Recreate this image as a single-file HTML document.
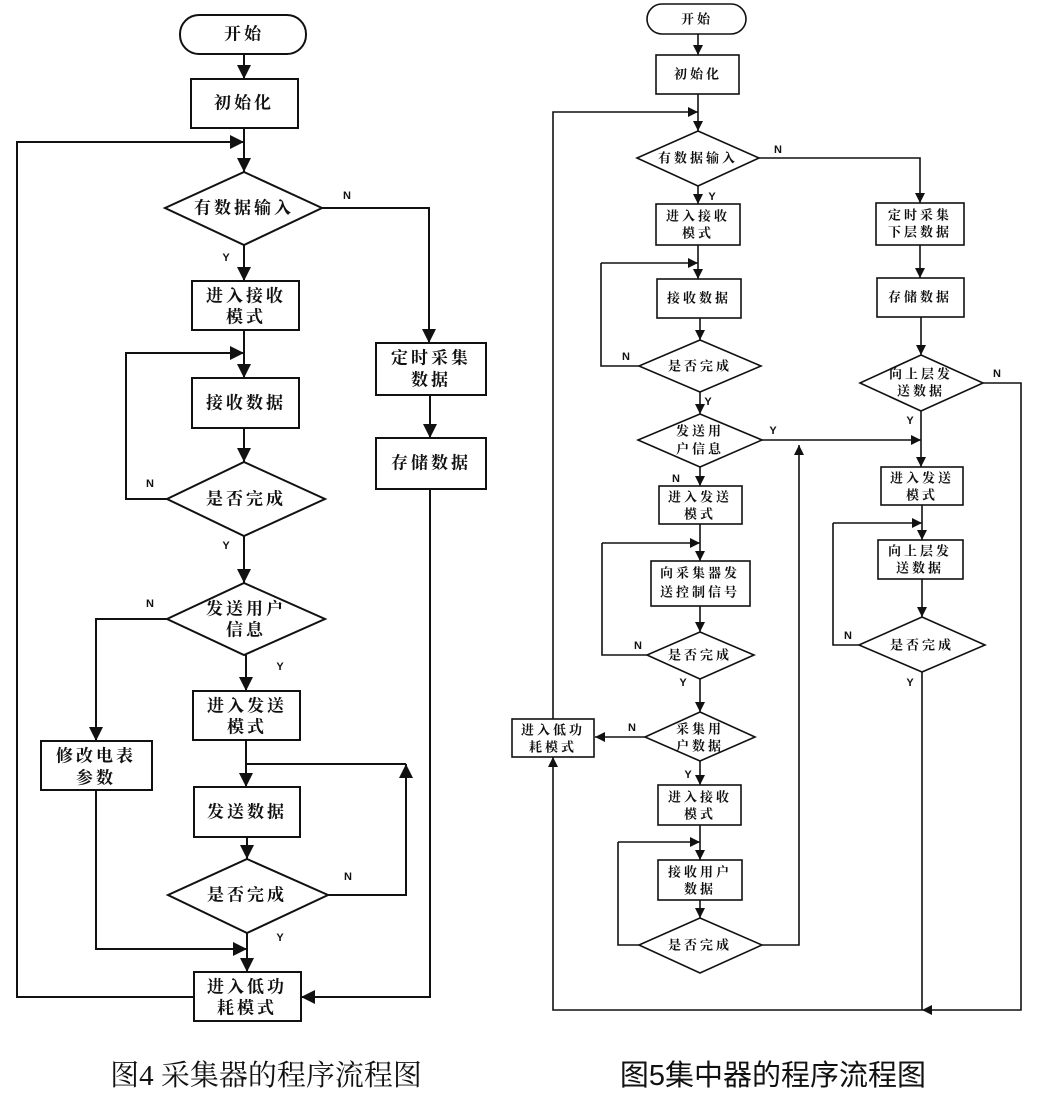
<!DOCTYPE html>
<html><head><meta charset="utf-8"><style>
html,body{margin:0;padding:0;background:#fff;}
svg{display:block}
text{font-family:"Liberation Serif","Noto Serif CJK SC",serif;fill:#111;text-anchor:middle;dominant-baseline:central}
.L{font-size:17px;letter-spacing:3px;font-weight:bold}
.R{font-size:13px;letter-spacing:3px;font-weight:bold}
.yn{font-family:"Liberation Sans",sans-serif;font-size:11px;font-weight:bold}
</style></head><body>
<svg width="1051" height="1096" viewBox="0 0 1051 1096" xmlns="http://www.w3.org/2000/svg">
<defs>
<marker id="b" markerUnits="userSpaceOnUse" markerWidth="14" markerHeight="14" refX="14" refY="7" orient="auto"><path d="M0,0 L14,7 L0,14 Z" fill="#111"/></marker>
<marker id="s" markerUnits="userSpaceOnUse" markerWidth="10" markerHeight="10" refX="10" refY="5" orient="auto"><path d="M0,0 L10,5 L0,10 Z" fill="#111"/></marker>
</defs>
<g fill="none" stroke="#111" stroke-width="2">
<!-- LEFT FIGURE -->
<rect x="180" y="15" width="126" height="39" rx="19"/>
<line x1="244" y1="54" x2="244" y2="79" marker-end="url(#b)"/>
<rect x="191" y="79" width="107" height="49"/>
<line x1="244" y1="128" x2="244" y2="172" marker-end="url(#b)"/>
<polygon points="244,172 322,208 244,245 165,208"/>
<line x1="244" y1="245" x2="244" y2="281" marker-end="url(#b)"/>
<polyline points="322,208 429,208 429,343" marker-end="url(#b)"/>
<rect x="192" y="281" width="107" height="49"/>
<rect x="376" y="343" width="110" height="52"/>
<line x1="430" y1="395" x2="430" y2="438" marker-end="url(#b)"/>
<rect x="376" y="438" width="110" height="51"/>
<line x1="244" y1="330" x2="244" y2="378" marker-end="url(#b)"/>
<rect x="192" y="378" width="107" height="50"/>
<line x1="244" y1="428" x2="244" y2="462" marker-end="url(#b)"/>
<polygon points="244,462 325,499 244,536 167,499"/>
<polyline points="167,499 126,499 126,353 244,353" marker-end="url(#b)"/>
<line x1="244" y1="536" x2="244" y2="583" marker-end="url(#b)"/>
<polygon points="244,583 325,619 244,655 167,619"/>
<polyline points="167,619 96,619 96,741" marker-end="url(#b)"/>
<rect x="41" y="741" width="111" height="49"/>
<line x1="246" y1="655" x2="246" y2="691" marker-end="url(#b)"/>
<rect x="193" y="691" width="107" height="49"/>
<line x1="246" y1="740" x2="246" y2="787" marker-end="url(#b)"/>
<line x1="246" y1="764" x2="406" y2="764"/>
<rect x="194" y="787" width="106" height="50"/>
<line x1="247" y1="837" x2="247" y2="859" marker-end="url(#b)"/>
<polygon points="247,859 328,895 247,933 168,895"/>
<polyline points="328,895 406,895 406,764" marker-end="url(#b)"/>
<polyline points="96,790 96,949 247,949" marker-end="url(#b)"/>
<line x1="247" y1="933" x2="247" y2="972" marker-end="url(#b)"/>
<rect x="194" y="972" width="107" height="49"/>
<polyline points="194,997 17,997 17,142 244,142" marker-end="url(#b)"/>
<polyline points="430,489 430,997 301,997" marker-end="url(#b)"/>
</g>
<g fill="none" stroke="#111" stroke-width="1.6">
<!-- RIGHT FIGURE -->
<rect x="647" y="4" width="99" height="30" rx="15"/>
<line x1="698" y1="34" x2="698" y2="55" marker-end="url(#s)"/>
<rect x="656" y="55" width="83" height="39"/>
<line x1="698" y1="94" x2="698" y2="131" marker-end="url(#s)"/>
<polyline points="553,719 553,112 698,112" marker-end="url(#s)"/>
<polygon points="698,131 759,158 698,186 637,158"/>
<line x1="698" y1="186" x2="698" y2="204" marker-end="url(#s)"/>
<polyline points="759,158 920,158 920,203" marker-end="url(#s)"/>
<rect x="656" y="204" width="84" height="41"/>
<rect x="876" y="203" width="88" height="42"/>
<line x1="920" y1="245" x2="920" y2="278" marker-end="url(#s)"/>
<rect x="877" y="278" width="87" height="39"/>
<line x1="921" y1="317" x2="921" y2="355" marker-end="url(#s)"/>
<polygon points="921,355 983,383 921,411 860,383"/>
<polyline points="983,383 1021,383 1021,1010 922,1010" marker-end="url(#s)"/>
<line x1="698" y1="245" x2="698" y2="279" marker-end="url(#s)"/>
<line x1="601" y1="263" x2="698" y2="263" marker-end="url(#s)"/>
<rect x="657" y="279" width="84" height="39"/>
<line x1="700" y1="318" x2="700" y2="340" marker-end="url(#s)"/>
<polygon points="700,340 761,366 700,392 639,366"/>
<polyline points="639,366 601,366 601,263"/>
<line x1="700" y1="392" x2="700" y2="414" marker-end="url(#s)"/>
<polygon points="700,414 762,440 700,467 638,440"/>
<polyline points="762,440 921,440" marker-end="url(#s)"/>
<line x1="921" y1="411" x2="921" y2="467" marker-end="url(#s)"/>
<line x1="700" y1="467" x2="700" y2="486" marker-end="url(#s)"/>
<rect x="659" y="486" width="83" height="38"/>
<rect x="881" y="467" width="82" height="38"/>
<line x1="922" y1="505" x2="922" y2="540" marker-end="url(#s)"/>
<line x1="833" y1="523" x2="922" y2="523" marker-end="url(#s)"/>
<rect x="878" y="540" width="85" height="39"/>
<line x1="922" y1="579" x2="922" y2="617" marker-end="url(#s)"/>
<polygon points="922,617 985,645 922,672 859,645"/>
<polyline points="859,645 833,645 833,523"/>
<line x1="922" y1="672" x2="922" y2="1010"/>
<line x1="700" y1="524" x2="700" y2="561" marker-end="url(#s)"/>
<line x1="602" y1="543" x2="700" y2="543" marker-end="url(#s)"/>
<rect x="651" y="561" width="99" height="45"/>
<line x1="700" y1="606" x2="700" y2="632" marker-end="url(#s)"/>
<polygon points="700,632 754,655 700,679 647,655"/>
<polyline points="647,655 602,655 602,543"/>
<line x1="700" y1="679" x2="700" y2="712" marker-end="url(#s)"/>
<polygon points="700,712 755,737 700,761 645,737"/>
<line x1="645" y1="737" x2="595" y2="737" marker-end="url(#s)"/>
<rect x="512" y="719" width="82" height="38"/>
<line x1="700" y1="761" x2="700" y2="785" marker-end="url(#s)"/>
<rect x="658" y="785" width="83" height="40"/>
<line x1="700" y1="825" x2="700" y2="860" marker-end="url(#s)"/>
<line x1="618" y1="842" x2="700" y2="842" marker-end="url(#s)"/>
<rect x="658" y="860" width="84" height="40"/>
<line x1="700" y1="900" x2="700" y2="918" marker-end="url(#s)"/>
<polygon points="700,918 762,945 700,973 639,945"/>
<polyline points="639,945 618,945 618,842"/>
<polyline points="762,945 799,945 799,445" marker-end="url(#s)"/>
<polyline points="922,1010 553,1010 553,757" marker-end="url(#s)"/>
</g>
<!-- LEFT TEXT -->
<text class="L" x="244" y="34">开始</text>
<text class="L" x="244" y="103">初始化</text>
<text class="L" x="244" y="208">有数据输入</text>
<text class="L" x="246" y="296">进入接收</text>
<text class="L" x="246" y="317">模式</text>
<text class="L" x="431" y="358">定时采集</text>
<text class="L" x="431" y="380">数据</text>
<text class="L" x="431" y="463">存储数据</text>
<text class="L" x="246" y="403">接收数据</text>
<text class="L" x="246" y="499">是否完成</text>
<text class="L" x="246" y="609">发送用户</text>
<text class="L" x="246" y="630">信息</text>
<text class="L" x="96" y="756">修改电表</text>
<text class="L" x="96" y="778">参数</text>
<text class="L" x="247" y="706">进入发送</text>
<text class="L" x="247" y="727">模式</text>
<text class="L" x="247" y="812">发送数据</text>
<text class="L" x="247" y="895">是否完成</text>
<text class="L" x="247" y="987">进入低功</text>
<text class="L" x="247" y="1008">耗模式</text>
<text class="yn" x="347" y="196">N</text>
<text class="yn" x="226" y="258">Y</text>
<text class="yn" x="150" y="484">N</text>
<text class="yn" x="226" y="546">Y</text>
<text class="yn" x="150" y="604">N</text>
<text class="yn" x="280" y="667">Y</text>
<text class="yn" x="348" y="877">N</text>
<text class="yn" x="280" y="938">Y</text>
<!-- RIGHT TEXT -->
<text class="R" x="697" y="19">开始</text>
<text class="R" x="698" y="74">初始化</text>
<text class="R" x="698" y="158">有数据输入</text>
<text class="R" x="698" y="216">进入接收</text>
<text class="R" x="698" y="233">模式</text>
<text class="R" x="920" y="215">定时采集</text>
<text class="R" x="920" y="232">下层数据</text>
<text class="R" x="699" y="298">接收数据</text>
<text class="R" x="920" y="297">存储数据</text>
<text class="R" x="700" y="366">是否完成</text>
<text class="R" x="921" y="374">向上层发</text>
<text class="R" x="921" y="391">送数据</text>
<text class="R" x="700" y="431">发送用</text>
<text class="R" x="700" y="449">户信息</text>
<text class="R" x="700" y="497">进入发送</text>
<text class="R" x="700" y="514">模式</text>
<text class="R" x="922" y="478">进入发送</text>
<text class="R" x="922" y="495">模式</text>
<text class="R" x="920" y="551">向上层发</text>
<text class="R" x="920" y="568">送数据</text>
<text class="R" x="700" y="573">向采集器发</text>
<text class="R" x="700" y="592">送控制信号</text>
<text class="R" x="700" y="655">是否完成</text>
<text class="R" x="922" y="645">是否完成</text>
<text class="R" x="700" y="729">采集用</text>
<text class="R" x="700" y="746">户数据</text>
<text class="R" x="553" y="730">进入低功</text>
<text class="R" x="553" y="747">耗模式</text>
<text class="R" x="700" y="797">进入接收</text>
<text class="R" x="700" y="814">模式</text>
<text class="R" x="700" y="872">接收用户</text>
<text class="R" x="700" y="889">数据</text>
<text class="R" x="700" y="945">是否完成</text>
<g class="yn" style="font-size:10px">
<text class="yn" x="778" y="150">N</text>
<text class="yn" x="712" y="197">Y</text>
<text class="yn" x="626" y="357">N</text>
<text class="yn" x="997" y="374">N</text>
<text class="yn" x="708" y="402">Y</text>
<text class="yn" x="910" y="421">Y</text>
<text class="yn" x="773" y="431">Y</text>
<text class="yn" x="676" y="479">N</text>
<text class="yn" x="638" y="646">N</text>
<text class="yn" x="848" y="636">N</text>
<text class="yn" x="683" y="683">Y</text>
<text class="yn" x="910" y="683">Y</text>
<text class="yn" x="632" y="728">N</text>
<text class="yn" x="688" y="775">Y</text>
</g>
<!-- CAPTIONS -->
<text x="266" y="1076" style="font-family:'Liberation Serif','Noto Serif CJK SC',serif;font-size:29px">图4 采集器的程序流程图</text>
<text x="773" y="1076" style="font-family:'Liberation Sans','Noto Sans CJK SC',sans-serif;font-size:29px">图5集中器的程序流程图</text>
</svg>
</body></html>
